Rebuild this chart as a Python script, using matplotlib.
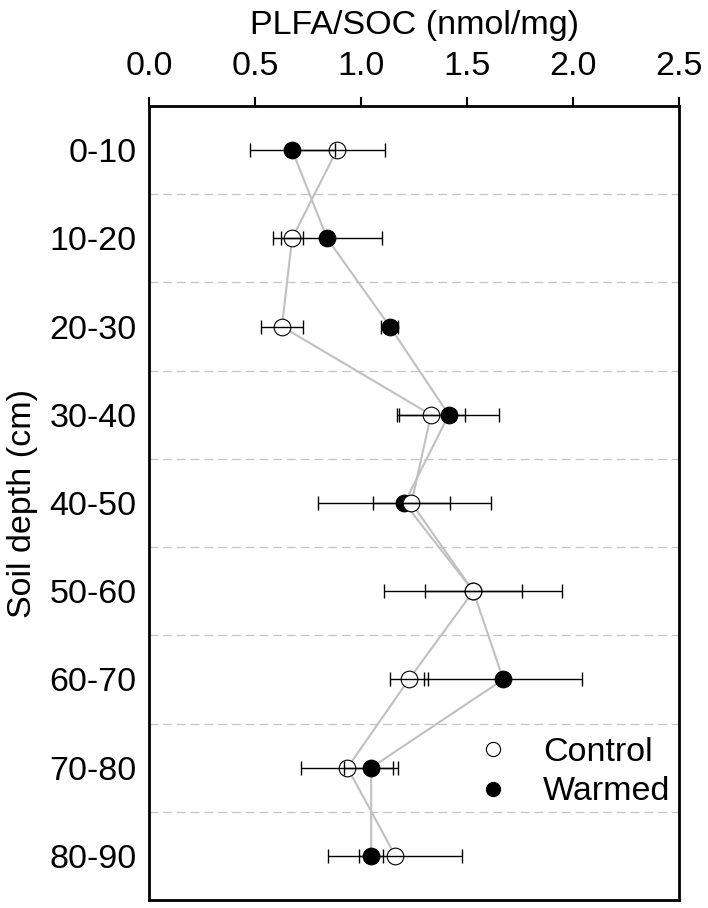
import matplotlib
matplotlib.use("Agg")
import matplotlib.pyplot as plt
import numpy as np

plt.rcParams['font.family'] = ['Liberation Sans', 'DejaVu Sans']

depths = ["0-10", "10-20", "20-30", "30-40", "40-50", "50-60", "60-70", "70-80", "80-90"]
control_mean = [0.886, 0.675, 0.627, 1.330, 1.238, 1.530, 1.226, 0.936, 1.162]
control_err = [0.227, 0.053, 0.100, 0.160, 0.180, 0.420, 0.090, 0.217, 0.316]
warmed_mean = [0.675, 0.840, 1.136, 1.414, 1.205, 1.530, 1.671, 1.048, 1.048]
warmed_err = [0.200, 0.257, 0.040, 0.235, 0.410, 0.230, 0.372, 0.128, 0.056]

fig = plt.figure(figsize=(7.08, 9.08), dpi=100)
ax = fig.add_axes([149/708, 1-900/908, 530/708, 794/908])

y = np.arange(len(depths))

# separator dashed lines
for i in range(len(depths) - 1):
    ax.axhline(i + 0.5, color='#c4c4c4', lw=0.9, ls=(0, (7, 4)), zorder=0)

# connecting lines
ax.plot(warmed_mean, y, color='#c0c0c0', lw=1.5, zorder=1)
ax.plot(control_mean, y, color='#c0c0c0', lw=1.5, zorder=1)

# markers
ax.plot(warmed_mean, y, 'o', ms=12, mfc='black', mec='black', mew=0.8,
        ls='none', zorder=3, label='Warmed')
ax.plot(control_mean, y, 'o', ms=12, mfc='white', mec='black', mew=0.8,
        ls='none', zorder=4, label='Control')

# error bars on top
ax.errorbar(warmed_mean, y, xerr=warmed_err, fmt='none', ecolor='black',
            elinewidth=1, capsize=4.7, capthick=1, zorder=5)
ax.errorbar(control_mean, y, xerr=control_err, fmt='none', ecolor='black',
            elinewidth=1, capsize=4.7, capthick=1, zorder=5)

ax.set_xlim(0, 2.5)
ax.set_ylim(len(depths) - 0.5, -0.5)
ax.set_xticks([0, 0.5, 1.0, 1.5, 2.0, 2.5])
ax.set_xticklabels(["0.0", "0.5", "1.0", "1.5", "2.0", "2.5"])
ax.set_yticks(y)
ax.set_yticklabels(depths)

ax.xaxis.tick_top()
ax.xaxis.set_label_position('top')
ax.tick_params(axis='x', direction='out', length=6.5, width=1.5, labelsize=24.5, pad=11)
ax.tick_params(axis='y', length=0, labelsize=24.5, pad=9)
for s in ax.spines.values():
    s.set_linewidth(2)

ax.set_xlabel("PLFA/SOC (nmol/mg)", fontsize=24.5, labelpad=12)
ax.set_ylabel("Soil depth (cm)", fontsize=24.5)
ax.yaxis.set_label_coords(-0.21, 0.5)

handles, labels = ax.get_legend_handles_labels()
leg = ax.legend([handles[1], handles[0]], [labels[1], labels[0]],
                loc='center left', bbox_to_anchor=(0.617, 0.161),
                frameon=False, fontsize=24.5, markerscale=0.85,
                handlelength=1.0, handletextpad=0.97, labelspacing=0.25,
                borderaxespad=0, borderpad=0)

fig.savefig("out.png", dpi=100)
